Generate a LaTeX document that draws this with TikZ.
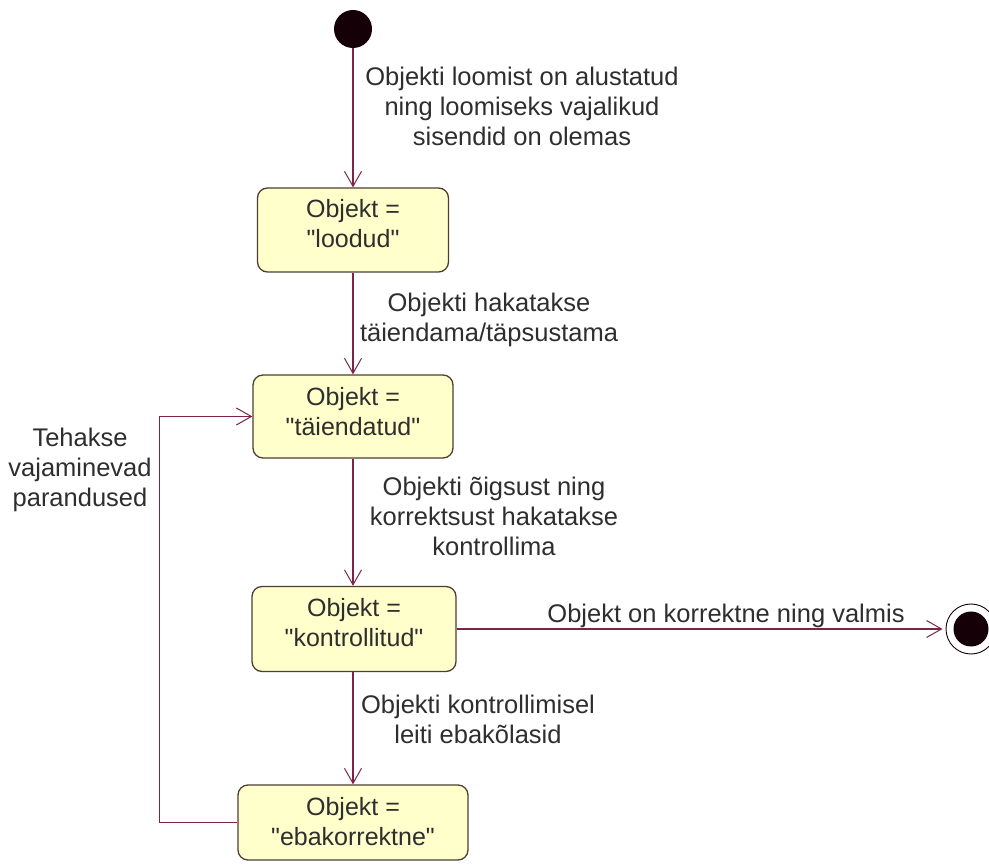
\documentclass[tikz,border=0pt]{standalone}
\usepackage{fontspec}
\setmainfont{Liberation Sans}[Ligatures=TeXOff]
\usetikzlibrary{arrows.meta}

\definecolor{edgeline}{HTML}{7C2448}
\definecolor{boxfill}{HTML}{FFFFCC}
\definecolor{boxline}{HTML}{4E3E34}
\definecolor{ink}{HTML}{2E2E2E}
\definecolor{dot}{HTML}{140006}

\begin{document}
\begin{tikzpicture}[x=1pt,y=-1pt,
  txt/.style={align=center, text=ink, inner sep=0pt,
    font=\fontsize{25}{30}\selectfont},
  lbltxt/.style={txt, font=\fontsize{25.5}{30}\selectfont},
  state/.style={draw=boxline, fill=boxfill, rounded corners=10pt,
    line width=1.3pt, inner sep=0pt},
  trans/.style={draw=edgeline, line width=1.2pt,
    -{Straight Barb[length=15pt,width=17pt,line width=1pt]}},
]
\useasboundingbox (0,0) rectangle (989,866);

% start and end pseudo-states
\node[circle, fill=dot, minimum size=38pt, inner sep=0pt] (init) at (353,29) {};
\node[circle, draw=dot, line width=0.9pt, minimum size=50pt, inner sep=0pt] (final) at (971,629) {};
\node[circle, fill=dot, minimum size=35pt, inner sep=0pt] (finaldot) at (final.center) {};

% states
\node[state, minimum width=191pt, minimum height=84pt,
  label={[txt, yshift=6pt]center:Objekt =\\"loodud"}] (s1) at (353,230) {};
\node[state, minimum width=200pt, minimum height=83pt,
  label={[txt, yshift=5pt]center:Objekt =\\"täiendatud"}] (s2) at (353,416.5) {};
\node[state, minimum width=204pt, minimum height=85pt,
  label={[txt, yshift=6pt]center:Objekt =\\"kontrollitud"}] (s3) at (354,629) {};
\node[state, minimum width=230pt, minimum height=75pt,
  label={[txt, yshift=1pt]center:Objekt =\\"ebakorrektne"}] (s4) at (353,822.5) {};

% transitions
\draw[trans] (init.south) -- (s1.north);
\draw[trans] (s1.south) -- (s2.north);
\draw[trans] (s2.south) -- (s2.south |- s3.north);
\draw[trans] (s3.south -| s2.south) -- (s2.south |- s4.north);
\draw[trans, shorten >=3pt] (s3.east) -- (final.west);
\draw[trans] (s4.west) -- ++(-78,0) |- (s2.west);

% transition labels
\node[lbltxt] (l1) at (522,106) {Objekti loomist on alustatud\\ning loomiseks vajalikud\\sisendid on olemas};
\node[lbltxt] (l2) at (489,320) {Objekti hakatakse\\täiendama/täpsustama};
\node[lbltxt] (l3) at (494,516) {Objekti õigsust ning\\korrektsust hakatakse\\kontrollima};
\node[lbltxt, anchor=base] (l4) at (726,623) {Objekt on korrektne ning valmis};
\node[lbltxt] (l5) at (478,719.5) {Objekti kontrollimisel\\leiti ebakõlasid};
\node[lbltxt] (l6) at (80,469.5) {Tehakse\\vajaminevad\\parandused};
\end{tikzpicture}
\end{document}
